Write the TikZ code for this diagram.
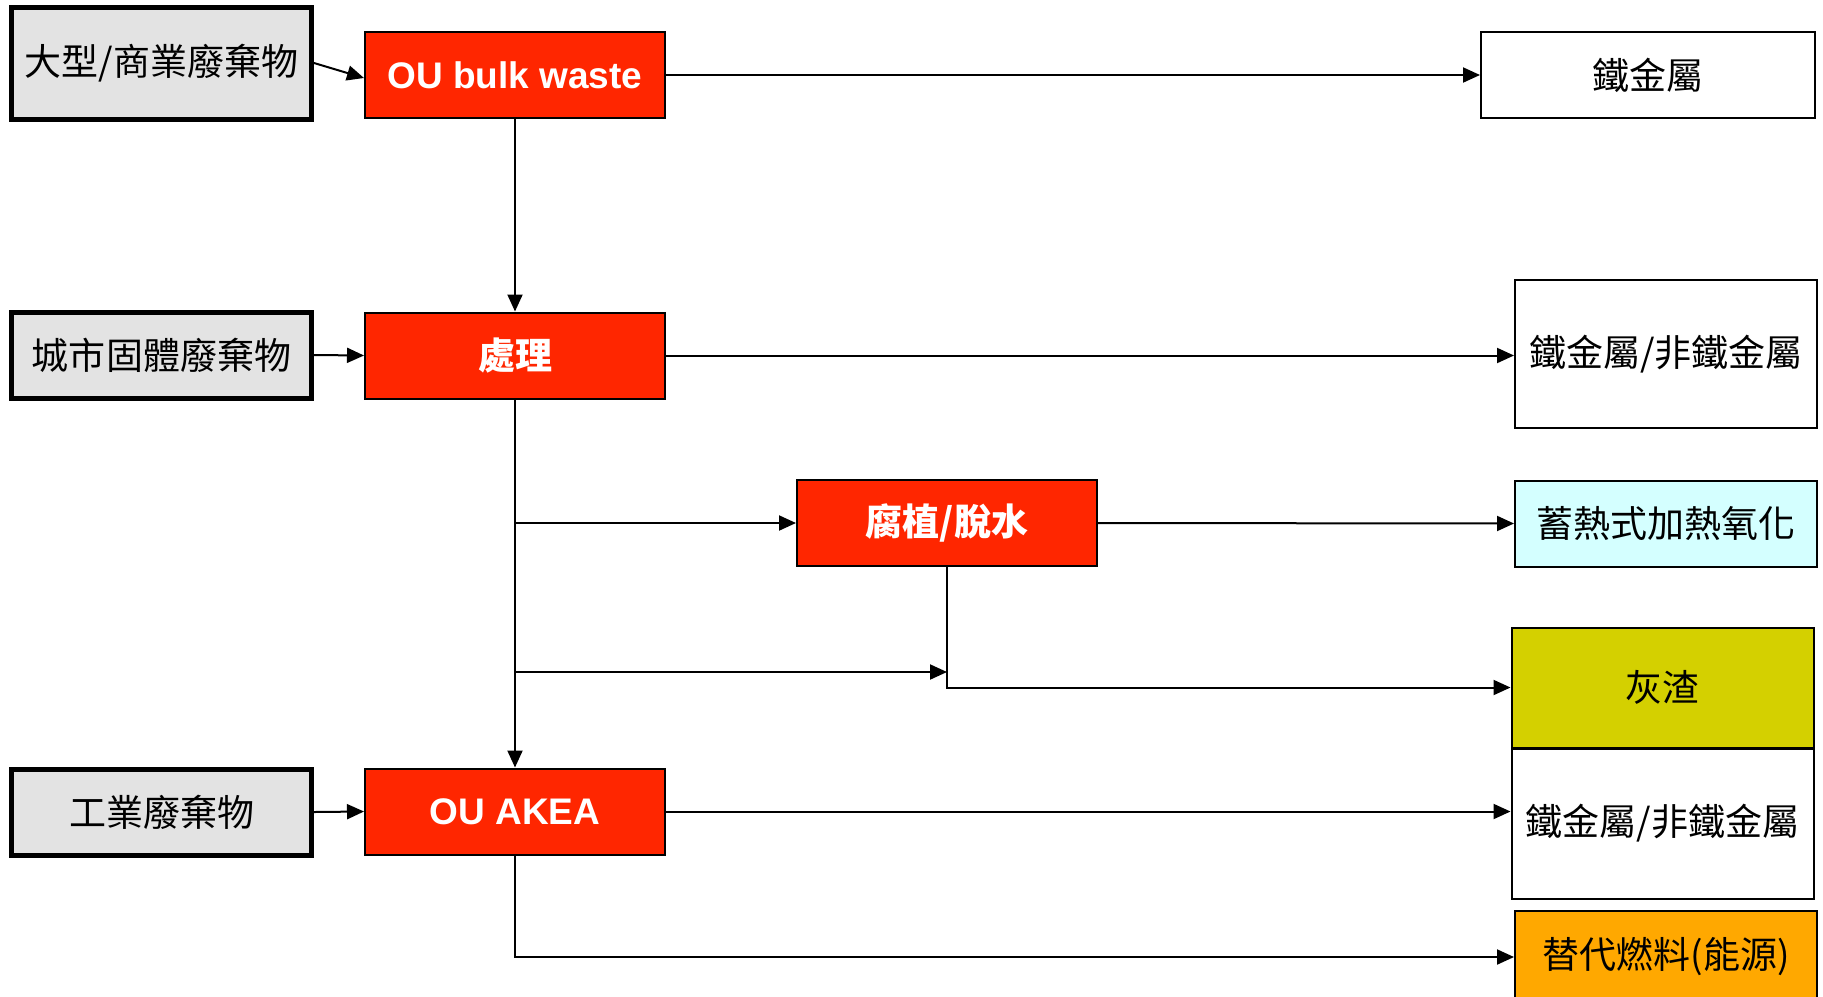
\documentclass[tikz,border=0pt]{standalone}
\usepackage{fontspec}
\setmainfont{Liberation Sans}
\newfontfamily\cjk{Noto Sans CJK TC}
\usetikzlibrary{arrows.meta}
\definecolor{srcgray}{HTML}{E3E3E3}
\definecolor{ouRed}{HTML}{FF2600}
\definecolor{rtoCyan}{HTML}{D4FFFF}
\definecolor{ashOlive}{HTML}{D4D000}
\definecolor{fuelOrange}{HTML}{FFA800}
\tikzset{
  srcbox/.style={draw=black, line width=2.5pt, fill=srcgray, minimum width=150pt, minimum height=43pt, inner sep=0pt, font=\cjk\fontsize{18.5}{22}\selectfont},
  redbox/.style={draw=black, line width=1pt, fill=ouRed, minimum width=150pt, minimum height=43pt, inner sep=0pt, text=white, font=\bfseries\fontsize{18.5}{22}\selectfont},
  outbox/.style={draw=black, line width=1pt, fill=white, minimum width=151pt, minimum height=43pt, inner sep=0pt, font=\cjk\fontsize{18.5}{22}\selectfont},
  arr/.style={line width=1pt, -{Triangle[length=8.5pt,width=7.5pt]}},
}
\begin{document}
\begin{tikzpicture}[x=0.5pt,y=-0.5pt]
\useasboundingbox (0,0) rectangle (1823,996);
% sources
\node[srcbox, minimum height=56pt] (src1) at (161.5,63) {大型/商業廢棄物};
\node[srcbox] (src2) at (161.5,355) {城市固體廢棄物};
\node[srcbox] (src3) at (161.5,812) {工業廢棄物};
% processes
\node[redbox] (bulk) at (515,75) {OU bulk waste};
\node[redbox] (proc) at (515,355.5) {\cjk 處理};
\node[redbox] (humus) at (947,523) {\cjk 腐植/脫水};
\node[redbox] (akea) at (515,811.5) {OU AKEA};
% outputs
\node[outbox, minimum width=167pt] (fe1) at (1648,75) {鐵金屬};
\node[outbox, minimum height=74pt] (fe2) at (1666,354) {鐵金屬/非鐵金屬};
\node[outbox, fill=rtoCyan] (rto) at (1666,523.5) {蓄熱式加熱氧化};
\node[outbox, fill=ashOlive, minimum height=60pt] (ash) at (1662.5,687.5) {灰渣};
\node[outbox, minimum height=75pt] (fe3) at (1662.5,823.5) {鐵金屬/非鐵金屬};
\node[outbox, fill=fuelOrange, minimum height=46pt] (fuel) at (1666,957) {替代燃料(能源)};
% connectors
\draw[arr] (src1.east) -- ([yshift=-1.5pt]bulk.west);
\draw[arr] (bulk.east) -- (fe1.west);
\draw[arr] (bulk.south) -- (proc.north);
\draw[arr] (src2.east) -- (proc.west);
\draw[arr] (proc.east) -- (proc.east -| fe2.west);
\draw[arr] (proc.south) -- (akea.north);
\coordinate (b1) at (proc.south |- humus.west);
\draw[arr] (b1) -- (humus.west);
\coordinate (b2) at (515,672);
\coordinate (b2e) at (humus.south |- b2);
\draw[arr] (b2) -- (b2e);
\draw[arr] (humus.east) -- (rto.west);
\draw[arr] (humus.south) |- (ash.west);
\draw[arr] (src3.east) -- (akea.west);
\draw[arr] (akea.east) -- (akea.east -| fe3.west);
\draw[arr] (akea.south) |- (fuel.west);
\end{tikzpicture}
\end{document}
